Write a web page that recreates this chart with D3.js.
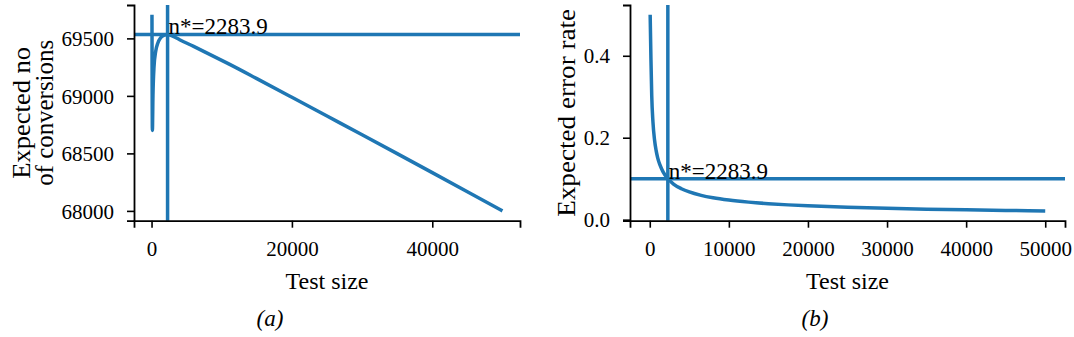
<!DOCTYPE html>
<html>
<head>
<meta charset="utf-8">
<script src="https://cdn.jsdelivr.net/npm/d3@7"></script>
<style>
  html, body { margin: 0; padding: 0; background: #fff; }
  svg { display: block; }
</style>
</head>
<body>
<svg id="fig" width="1074" height="337"></svg>
<script>
// Panel (a): expected number of conversions versus test size
const convN = [60, 120, 200, 350, 600, 900, 1300, 1800, 2284, 3000, 4000, 6000, 8000, 11000, 15000, 20000, 25000, 30000, 35000, 40000, 45000, 50000];
const convValues = [69705, 68700, 69000, 69250, 69390, 69460, 69505, 69527, 69534, 69520, 69488, 69430, 69370, 69278, 69150, 68988, 68825, 68662, 68498, 68333, 68167, 68000];
const convYTicks = [68000, 68500, 69000, 69500];
const convXTicks = [0, 20000, 40000];

// Panel (b): expected error rate versus test size
const errN = [50, 150, 250, 400, 600, 800, 1000, 1300, 1700, 2284, 3000, 4000, 5000, 6500, 8000, 10000, 12500, 15000, 17500, 20000, 25000, 30000, 35000, 40000, 45000, 50000];
const errValues = [0.500, 0.390, 0.302, 0.239, 0.195, 0.169, 0.151, 0.133, 0.116, 0.100, 0.087, 0.0756, 0.0676, 0.0593, 0.0534, 0.0478, 0.0428, 0.0390, 0.0361, 0.0338, 0.0302, 0.0276, 0.0256, 0.0239, 0.0225, 0.0214];
const errYTicks = [0.0, 0.2, 0.4];
const errXTicks = [0, 10000, 20000, 30000, 40000, 50000];

// Optimal test size and the values at that point
const nStar = 2283.9;
const convStar = 69534;
const errStar = 0.1;

const BLUE = "#1f77b4";
const SERIF = '"Liberation Serif"';
const svg = d3.select("#fig");

// matplotlib-style 5% padding around the data extent
function padded(lo, hi) {
  const m = (hi - lo) * 0.05;
  return [lo - m, hi + m];
}

function label(g, size) {
  return g.append("text").attr("font-family", SERIF).attr("font-size", size).attr("fill", "#000");
}

function panel(opts) {
  const { left, right, top, bottom, xs, ys, yTicks, xTicks, yFmt, yStar, ylabelLines, ylabelX, ylabelLen, caption, captionX } = opts;
  const g = svg.append("g");

  const x = d3.scaleLinear().domain(padded(0, d3.max(xs))).range([left, right]);
  const y = d3.scaleLinear().domain(padded(d3.min(ys), d3.max(ys))).range([bottom, top]);

  // data curve
  const pts = xs.map((v, i) => [v, ys[i]]);
  g.append("path")
    .datum(pts)
    .attr("fill", "none")
    .attr("stroke", BLUE)
    .attr("stroke-width", 3.5)
    .attr("stroke-linejoin", "round")
    .attr("d", d3.line().x(d => x(d[0])).y(d => y(d[1])).curve(d3.curveMonotoneX));

  // reference lines at the optimum
  g.append("line")
    .attr("x1", x(nStar)).attr("x2", x(nStar))
    .attr("y1", top).attr("y2", bottom)
    .attr("stroke", BLUE).attr("stroke-width", 3.5);
  g.append("line")
    .attr("x1", left).attr("x2", right)
    .attr("y1", y(yStar)).attr("y2", y(yStar))
    .attr("stroke", BLUE).attr("stroke-width", 3.5);

  // axes
  const ax = g.append("g")
    .attr("transform", `translate(0,${bottom})`)
    .call(d3.axisBottom(x).tickValues(xTicks).tickFormat(d3.format("d")).tickSizeOuter(0).tickSize(7).tickPadding(13));
  const ay = g.append("g")
    .attr("transform", `translate(${left},0)`)
    .call(d3.axisLeft(y).tickValues(yTicks).tickFormat(yFmt).tickSizeOuter(0).tickSize(7).tickPadding(13));
  [ax, ay].forEach(a => {
    a.attr("font-family", SERIF).attr("font-size", 21);
    a.select(".domain").attr("stroke", "#000").attr("stroke-width", 1.8);
    a.selectAll(".tick line").attr("stroke", "#000").attr("stroke-width", 1.6);
    a.selectAll(".tick text").attr("fill", "#000").attr("font-family", SERIF).attr("font-size", 21);
  });
  ax.selectAll(".tick text").attr("dy", "0.71em");
  ay.selectAll(".tick text").attr("dy", "0.34em");

  // annotation
  label(g, 23)
    .attr("x", x(nStar) + 1)
    .attr("y", y(yStar))
    .text(`n*=${nStar}`);

  // x label
  label(g, 24)
    .attr("x", (left + right) / 2)
    .attr("y", 289)
    .attr("text-anchor", "middle")
    .text("Test size");

  // y label (rotated, possibly two lines)
  const cy = (top + bottom) / 2;
  ylabelLines.forEach((line, i) => {
    label(g, 24.5)
      .attr("transform", `translate(${ylabelX[i]},${cy}) rotate(-90)`)
      .attr("text-anchor", "middle")
      .attr("dominant-baseline", "central")
      .attr("textLength", ylabelLen[i])
      .attr("lengthAdjust", "spacingAndGlyphs")
      .text(line);
  });

  // caption
  label(g, 23)
    .attr("x", captionX)
    .attr("y", 326)
    .attr("text-anchor", "middle")
    .attr("font-style", "italic")
    .text(caption);
}

panel({
  left: 134, right: 520, top: 5, bottom: 220.7,
  xs: convN, ys: convValues, yTicks: convYTicks, xTicks: convXTicks,
  yFmt: d3.format("d"), yStar: convStar,
  ylabelLines: ["Expected no", "of conversions"], ylabelX: [21, 44], ylabelLen: [132, 146],
  caption: "(a)", captionX: 270
});

panel({
  left: 630, right: 1065, top: 5, bottom: 220.7,
  xs: errN, ys: errValues, yTicks: errYTicks, xTicks: errXTicks,
  yFmt: d3.format(".1f"), yStar: errStar,
  ylabelLines: ["Expected error rate"], ylabelX: [566], ylabelLen: [208],
  caption: "(b)", captionX: 815
});
</script>
</body>
</html>
